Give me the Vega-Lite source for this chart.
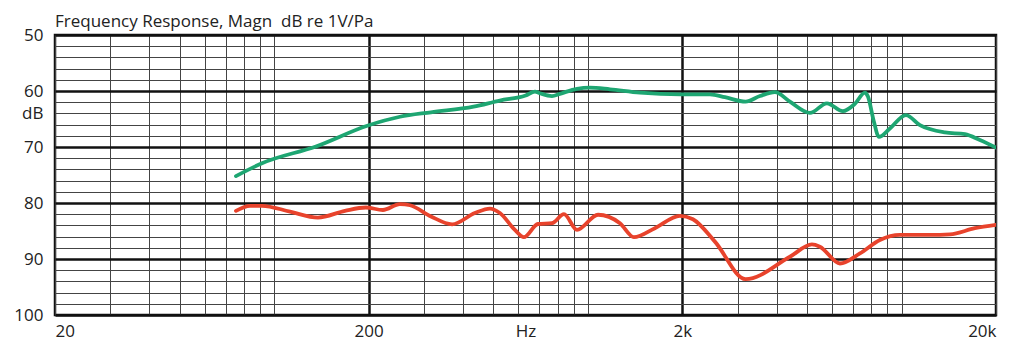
{
  "$schema": "https://vega.github.io/schema/vega-lite/v6.json",
  "autosize": {"type": "none"},
  "padding": {"left": 55, "top": 35, "right": 28, "bottom": 38},
  "width": 941,
  "height": 280,
  "background": "white",
  "title": {
    "text": "Frequency Response, Magn\u00a0 dB re 1V/Pa",
    "anchor": "start",
    "frame": "group",
    "font": "Open Sans",
    "fontSize": 17,
    "fontWeight": "normal",
    "color": "#222222",
    "baseline": "bottom",
    "offset": 3,
    "dy": 25
  },
  "config": {
    "view": {"stroke": "#111111", "strokeWidth": 2.5},
    "axis": {"labelFont": "Open Sans", "titleFont": "Open Sans", "labelColor": "#222222", "titleColor": "#222222", "domain": false, "ticks": false}
  },
  "data": {
    "values": [
      {"f": 75.5, "db": 75.2, "s": "a"},
      {"f": 91.4, "db": 72.9, "s": "a"},
      {"f": 135.8, "db": 69.9, "s": "a"},
      {"f": 198, "db": 66.2, "s": "a"},
      {"f": 251.6, "db": 64.6, "s": "a"},
      {"f": 316, "db": 63.8, "s": "a"},
      {"f": 432, "db": 62.8, "s": "a"},
      {"f": 524, "db": 61.7, "s": "a"},
      {"f": 633, "db": 60.8, "s": "a"},
      {"f": 678, "db": 60.1, "s": "a"},
      {"f": 703, "db": 60.4, "s": "a"},
      {"f": 768, "db": 60.9, "s": "a"},
      {"f": 814, "db": 60.5, "s": "a"},
      {"f": 923, "db": 59.6, "s": "a"},
      {"f": 1015, "db": 59.4, "s": "a"},
      {"f": 1176, "db": 59.7, "s": "a"},
      {"f": 1465, "db": 60.3, "s": "a"},
      {"f": 1979, "db": 60.6, "s": "a"},
      {"f": 2450, "db": 60.6, "s": "a"},
      {"f": 2734, "db": 61.1, "s": "a"},
      {"f": 3182, "db": 61.9, "s": "a"},
      {"f": 3536, "db": 60.9, "s": "a"},
      {"f": 3946, "db": 60.2, "s": "a"},
      {"f": 4406, "db": 61.9, "s": "a"},
      {"f": 5104, "db": 63.9, "s": "a"},
      {"f": 5781, "db": 62.2, "s": "a"},
      {"f": 6502, "db": 63.6, "s": "a"},
      {"f": 7098, "db": 62.3, "s": "a"},
      {"f": 7642, "db": 60.3, "s": "a"},
      {"f": 7812, "db": 61.0, "s": "a"},
      {"f": 8162, "db": 65.5, "s": "a"},
      {"f": 8468, "db": 68.2, "s": "a"},
      {"f": 9180, "db": 66.7, "s": "a"},
      {"f": 10324, "db": 64.3, "s": "a"},
      {"f": 11443, "db": 66.1, "s": "a"},
      {"f": 13746, "db": 67.4, "s": "a"},
      {"f": 15920, "db": 67.7, "s": "a"},
      {"f": 17772, "db": 68.75, "s": "a"},
      {"f": 20000, "db": 70.1, "s": "a"},
      {"f": 75.5, "db": 81.4, "s": "b"},
      {"f": 83.7, "db": 80.5, "s": "b"},
      {"f": 91.4, "db": 80.5, "s": "b"},
      {"f": 112.3, "db": 81.55, "s": "b"},
      {"f": 137.8, "db": 82.6, "s": "b"},
      {"f": 168, "db": 81.4, "s": "b"},
      {"f": 196, "db": 80.8, "s": "b"},
      {"f": 222, "db": 81.25, "s": "b"},
      {"f": 251.6, "db": 80.2, "s": "b"},
      {"f": 271, "db": 80.4, "s": "b"},
      {"f": 316, "db": 82.4, "s": "b"},
      {"f": 369, "db": 83.8, "s": "b"},
      {"f": 436, "db": 81.8, "s": "b"},
      {"f": 487, "db": 81.0, "s": "b"},
      {"f": 524, "db": 81.8, "s": "b"},
      {"f": 585, "db": 84.8, "s": "b"},
      {"f": 625, "db": 86.1, "s": "b"},
      {"f": 693, "db": 83.75, "s": "b"},
      {"f": 768, "db": 83.6, "s": "b"},
      {"f": 839, "db": 82.0, "s": "b"},
      {"f": 923, "db": 84.8, "s": "b"},
      {"f": 1077, "db": 82.1, "s": "b"},
      {"f": 1265, "db": 83.6, "s": "b"},
      {"f": 1402, "db": 86.1, "s": "b"},
      {"f": 1635, "db": 84.5, "s": "b"},
      {"f": 1965, "db": 82.3, "s": "b"},
      {"f": 2162, "db": 82.9, "s": "b"},
      {"f": 2540, "db": 86.9, "s": "b"},
      {"f": 3182, "db": 93.6, "s": "b"},
      {"f": 4406, "db": 89.6, "s": "b"},
      {"f": 5178, "db": 87.4, "s": "b"},
      {"f": 5490, "db": 87.8, "s": "b"},
      {"f": 6360, "db": 90.8, "s": "b"},
      {"f": 7366, "db": 89.0, "s": "b"},
      {"f": 8530, "db": 86.6, "s": "b"},
      {"f": 9878, "db": 85.7, "s": "b"},
      {"f": 12312, "db": 85.7, "s": "b"},
      {"f": 14262, "db": 85.6, "s": "b"},
      {"f": 17126, "db": 84.5, "s": "b"},
      {"f": 20000, "db": 83.9, "s": "b"}
    ]
  },
  "mark": {"type": "line", "interpolate": "monotone", "strokeWidth": 3.8, "strokeCap": "round", "clip": true},
  "encoding": {
    "x": {
      "field": "f",
      "type": "quantitative",
      "scale": {"type": "log", "domain": [20, 20000], "nice": false},
      "axis": {
        "title": "Hz",
        "titleFontSize": 17,
        "titleFontWeight": "normal",
        "titleBaseline": "top",
        "titleY": 8,
        "values": [20, 30, 40, 50, 60, 70, 80, 90, 100, 200, 300, 400, 500, 600, 700, 800, 900, 1000, 2000, 3000, 4000, 5000, 6000, 7000, 8000, 9000, 10000, 20000],
        "labelExpr": "datum.value == 20 ? '20' : datum.value == 200 ? '200' : datum.value == 2000 ? '2k' : datum.value == 20000 ? '20k' : ''",
        "labelFontSize": 17,
        "labelPadding": 8,
        "labelOverlap": false,
        "labelFlush": true,
        "grid": true,
        "gridColor": {"condition": {"test": "datum.value == 200 || datum.value == 2000", "value": "#111111"}, "value": "#444444"},
        "gridWidth": {"condition": {"test": "datum.value == 200 || datum.value == 2000", "value": 2.5}, "value": 1},
        "gridOpacity": 1
      }
    },
    "y": {
      "field": "db",
      "type": "quantitative",
      "scale": {"domain": [50, 100], "reverse": true, "nice": false, "zero": false},
      "axis": {
        "title": null,
        "values": [50, 52, 54, 56, 58, 60, 62, 64, 66, 68, 70, 72, 74, 76, 78, 80, 82, 84, 86, 88, 90, 92, 94, 96, 98, 100],
        "labelExpr": "datum.value % 10 == 0 ? datum.label : (datum.value == 64 ? 'dB' : '')",
        "labelFontSize": 17,
        "labelPadding": 12,
        "labelOverlap": false,
        "labelFlush": false,
        "grid": true,
        "gridColor": {"condition": {"test": "datum.value % 10 == 0", "value": "#111111"}, "value": "#444444"},
        "gridWidth": {"condition": {"test": "datum.value % 10 == 0", "value": 2.5}, "value": 1},
        "gridOpacity": 1
      }
    },
    "color": {
      "field": "s",
      "type": "nominal",
      "scale": {"domain": ["a", "b"], "range": ["#1ea672", "#e8432c"]},
      "legend": null
    }
  }
}
